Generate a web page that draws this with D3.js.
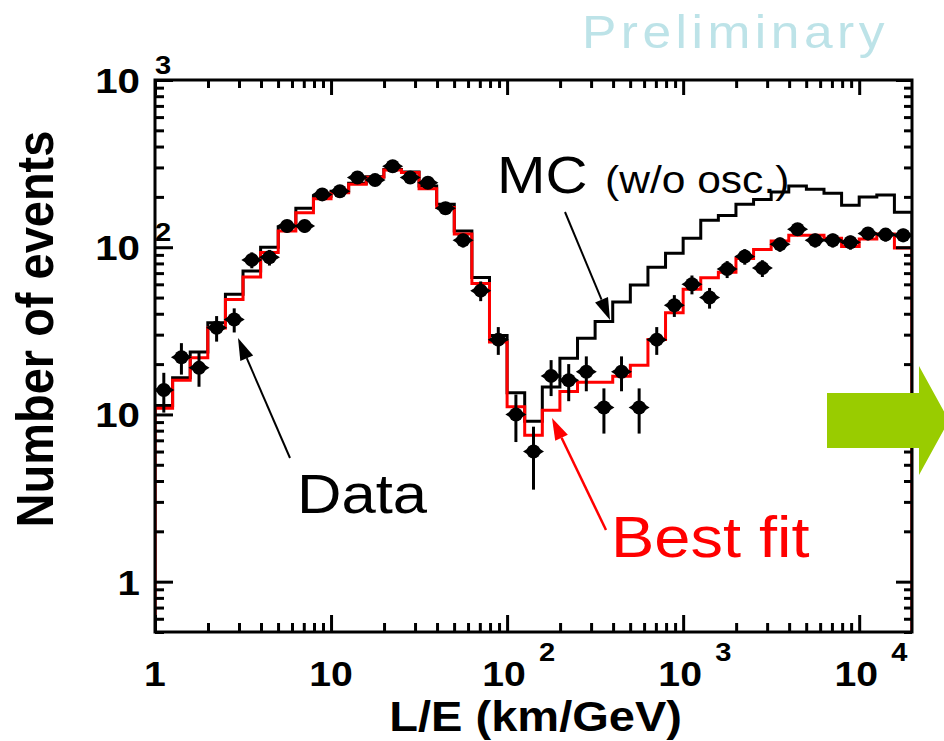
<!DOCTYPE html>
<html>
<head>
<meta charset="utf-8">
<script src="https://cdn.jsdelivr.net/npm/d3@7/dist/d3.min.js"></script>
<style>
  body { margin: 0; background: #fff; }
  svg { display: block; }
  text { font-family: "Liberation Sans", Arial, Helvetica, sans-serif; }
</style>
</head>
<body>
<svg id="chart" width="944" height="741"></svg>
<script>
// L/E bin edges (km/GeV), ten logarithmic bins per decade
const binEdges = [
  1, 1.259, 1.585, 1.995, 2.512, 3.162, 3.981, 5.012, 6.310, 7.943,
  10, 12.59, 15.85, 19.95, 25.12, 31.62, 39.81, 50.12, 63.10, 79.43,
  100, 125.9, 158.5, 199.5, 251.2, 316.2, 398.1, 501.2, 631.0, 794.3,
  1000, 1259, 1585, 1995, 2512, 3162, 3981, 5012, 6310, 7943,
  10000, 12590, 15850, 19950
];

// Observed events per bin
const dataCounts = [
  14, 22, 19, 33, 37, 84, 87, 134, 134, 207,
  216, 261, 252, 305, 261, 243, 171, 110, 55, 28,
  10, 6, 17, 16, 18, 11, 18, 11, 28, 45,
  60, 50, 74, 88, 75, 104, 128, 110, 110, 107,
  121, 119, 118
];

// Monte Carlo expectation without oscillation
const mcNoOsc = [
  11.3, 16.6, 23.6, 35.4, 52.3, 72.1, 100, 132, 171, 202,
  216, 241, 264, 292, 282, 232, 181, 125, 65.8, 29.7,
  13.5, 9.1, 14.6, 21.7, 28.6, 36.0, 47.1, 59.5, 76, 92,
  113, 145, 155, 181, 193, 214, 232, 222, 210, 178,
  200, 205, 162
];

// Best-fit oscillation expectation
const bestFit = [
  10.9, 16.0, 21.8, 32.9, 48.6, 66.4, 93, 125, 161, 195,
  212, 238, 262, 290, 280, 224, 173, 120, 60.6, 27.1,
  11.1, 7.5, 10.6, 13.7, 15.6, 15.6, 16.9, 19.7, 28.1, 40.6,
  56, 65.6, 70.8, 85.5, 97, 109, 118, 118, 113, 101,
  112, 120, 99
];

// Axis labels, written as base and exponent
const xTickValues = [1, 10, 100, 1000, 10000];
const xTickBase = ["1", "10", "10", "10", "10"];
const xTickExp = ["", "", "2", "3", "4"];
const yTickValues = [1, 10, 100, 1000];
const yTickBase = ["1", "10", "10", "10"];
const yTickExp = ["", "", "2", "3"];

const xTitle = "L/E (km/GeV)";
const yTitle = "Number of events";

const svg = d3.select("#chart");
const frame = { left: 155, right: 912, top: 80, bottom: 632 };
const SX = 1.12; // horizontal widening of all lettering

const x = d3.scaleLog().domain([binEdges[0], binEdges[binEdges.length - 1]]).range([frame.left, frame.right]);
const y = d3.scaleLog().domain([0.5, 1000]).range([frame.bottom, frame.top]);

svg.append("rect").attr("width", 944).attr("height", 741).attr("fill", "#fff");

// text helper with horizontal widening about the anchor point
function label(g, str, px, py, opts) {
  const o = Object.assign({ size: 32, weight: "bold", anchor: "start", fill: "#000", spacing: 0, rotate: 0 }, opts || {});
  const t = g.append("text")
    .attr("transform", o.rotate
      ? `translate(${px},${py}) rotate(${o.rotate}) scale(1,${SX})`
      : `translate(${px},${py}) scale(${SX},1)`)
    .attr("font-size", o.size)
    .attr("font-weight", o.weight)
    .attr("text-anchor", o.anchor)
    .attr("fill", o.fill)
    .text(str);
  if (o.spacing) t.attr("letter-spacing", o.spacing);
  return t;
}

// clip for the histogram contents
svg.append("clipPath").attr("id", "plotClip")
  .append("rect")
  .attr("x", frame.left).attr("y", frame.top)
  .attr("width", frame.right - frame.left).attr("height", frame.bottom - frame.top);

const plotG = svg.append("g").attr("clip-path", "url(#plotClip)");

// step outline of a binned histogram, closed down to the lower axis edge
function histPoints(vals) {
  const yMin = y.domain()[0];
  const pts = [[binEdges[0], yMin]];
  vals.forEach((v, i) => pts.push([binEdges[i], v]));
  pts.push([binEdges[vals.length], vals[vals.length - 1]]);
  pts.push([binEdges[vals.length], yMin]);
  return pts;
}
const stepLine = d3.line().x(d => x(d[0])).y(d => y(d[1])).curve(d3.curveStepAfter);

plotG.append("path")
  .attr("d", stepLine(histPoints(mcNoOsc)))
  .attr("fill", "none").attr("stroke", "#000").attr("stroke-width", 3);

plotG.append("path")
  .attr("d", stepLine(histPoints(bestFit)))
  .attr("fill", "none").attr("stroke", "#ff0000").attr("stroke-width", 3);

// data points with Poisson error bars at bin centres
const points = dataCounts.map((n, i) => ({
  c: Math.sqrt(binEdges[i] * binEdges[i + 1]),
  n: n,
  e: Math.sqrt(n)
}));

const dataG = plotG.append("g");
dataG.selectAll("line.err").data(points).join("line")
  .attr("class", "err")
  .attr("x1", d => x(d.c)).attr("x2", d => x(d.c))
  .attr("y1", d => y(d.n + d.e)).attr("y2", d => y(Math.max(d.n - d.e, 0.5)))
  .attr("stroke", "#000").attr("stroke-width", 3);
dataG.selectAll("circle.mk").data(points).join("circle")
  .attr("class", "mk")
  .attr("cx", d => x(d.c)).attr("cy", d => y(d.n)).attr("r", 7)
  .attr("fill", "#000");
dataG.selectAll("path.mk").data(points).join("path")
  .attr("class", "mk")
  .attr("d", d => {
    const cx = x(d.c), cy = y(d.n);
    return `M${cx - 10.5},${cy}L${cx},${cy - 6.5}L${cx + 10.5},${cy}L${cx},${cy + 6.5}Z`;
  })
  .attr("fill", "#000");

// ticks on all four sides of the frame
const isMajor = v => Math.abs(Math.log10(v) - Math.round(Math.log10(v))) < 1e-6;
const xMinor = x.ticks().filter(v => !isMajor(v));
const yMinor = y.ticks().filter(v => !isMajor(v));

function ticks(axisFn, scale, vals, size, tx, ty) {
  const g = svg.append("g").attr("transform", `translate(${tx},${ty})`)
    .call(axisFn(scale).tickValues(vals).tickSize(size).tickFormat(""));
  g.select(".domain").remove();
  g.selectAll(".tick line").attr("stroke", "#000").attr("stroke-width", 3);
}
ticks(d3.axisBottom, x, xMinor, -9, 0, frame.bottom);
ticks(d3.axisBottom, x, xTickValues, -17, 0, frame.bottom);
ticks(d3.axisTop, x, xMinor, -8, 0, frame.top);
ticks(d3.axisTop, x, xTickValues, -15, 0, frame.top);
ticks(d3.axisLeft, y, yMinor, -9, frame.left, 0);
ticks(d3.axisLeft, y, yTickValues, -18, frame.left, 0);
ticks(d3.axisRight, y, yMinor, -8, frame.right, 0);
ticks(d3.axisRight, y, yTickValues, -16, frame.right, 0);

svg.append("rect")
  .attr("x", frame.left).attr("y", frame.top)
  .attr("width", frame.right - frame.left).attr("height", frame.bottom - frame.top)
  .attr("fill", "none").attr("stroke", "#000").attr("stroke-width", 3);

// tick labels
const labG = svg.append("g");
xTickValues.forEach((v, i) => {
  if (xTickExp[i] === "") {
    label(labG, xTickBase[i], x(v), 686, { anchor: "middle", size: 35 });
  } else {
    label(labG, xTickBase[i], x(v) - 3, 686, { anchor: "middle", size: 35 });
    label(labG, xTickExp[i], x(v) + 32, 661, { size: 26 });
  }
});
yTickValues.forEach((v, i) => {
  label(labG, yTickBase[i], 140, y(v) + 13, { anchor: "end", size: 36 });
  if (yTickExp[i] !== "") label(labG, yTickExp[i], 155, y(v) - 6, { size: 26 });
});

// axis titles
label(labG, xTitle, 682, 731, { anchor: "end", size: 42 });
label(labG, yTitle, 53, 329, { anchor: "middle", size: 47, rotate: -90 });

// annotations
const annG = svg.append("g");
function arrow(x1, y1, x2, y2, color, w) {
  const a = Math.atan2(y2 - y1, x2 - x1);
  const L = 22, hw = 7;
  const bx = x2 - L * Math.cos(a), by = y2 - L * Math.sin(a);
  annG.append("line").attr("x1", x1).attr("y1", y1).attr("x2", bx).attr("y2", by)
    .attr("stroke", color).attr("stroke-width", w);
  annG.append("path")
    .attr("d", `M${x2},${y2}L${bx - hw * Math.sin(a)},${by + hw * Math.cos(a)}L${bx + hw * Math.sin(a)},${by - hw * Math.cos(a)}Z`)
    .attr("fill", color);
}
label(annG, "MC", 497, 193, { size: 52, weight: "normal" });
label(annG, "(w/o osc.)", 605, 193, { size: 38, weight: "normal" });
arrow(565, 212, 610, 320, "#000", 2);

label(annG, "Data", 297, 513, { size: 55, weight: "normal" });
arrow(290, 458, 238, 338, "#000", 2);

label(annG, "Best fit", 611, 557, { size: 58, weight: "normal", fill: "#ff0000" });
arrow(606, 530, 552, 418, "#ff0000", 2.5);

label(annG, "Preliminary", 582, 48, { size: 46, weight: "normal", fill: "#bde3e8", spacing: 4 });

// green slide arrow at the right edge
annG.append("path")
  .attr("d", "M827,393L919,393L919,366L949,420.5L919,475L919,448L827,448Z")
  .attr("fill", "#99cc00");
</script>
</body>
</html>
